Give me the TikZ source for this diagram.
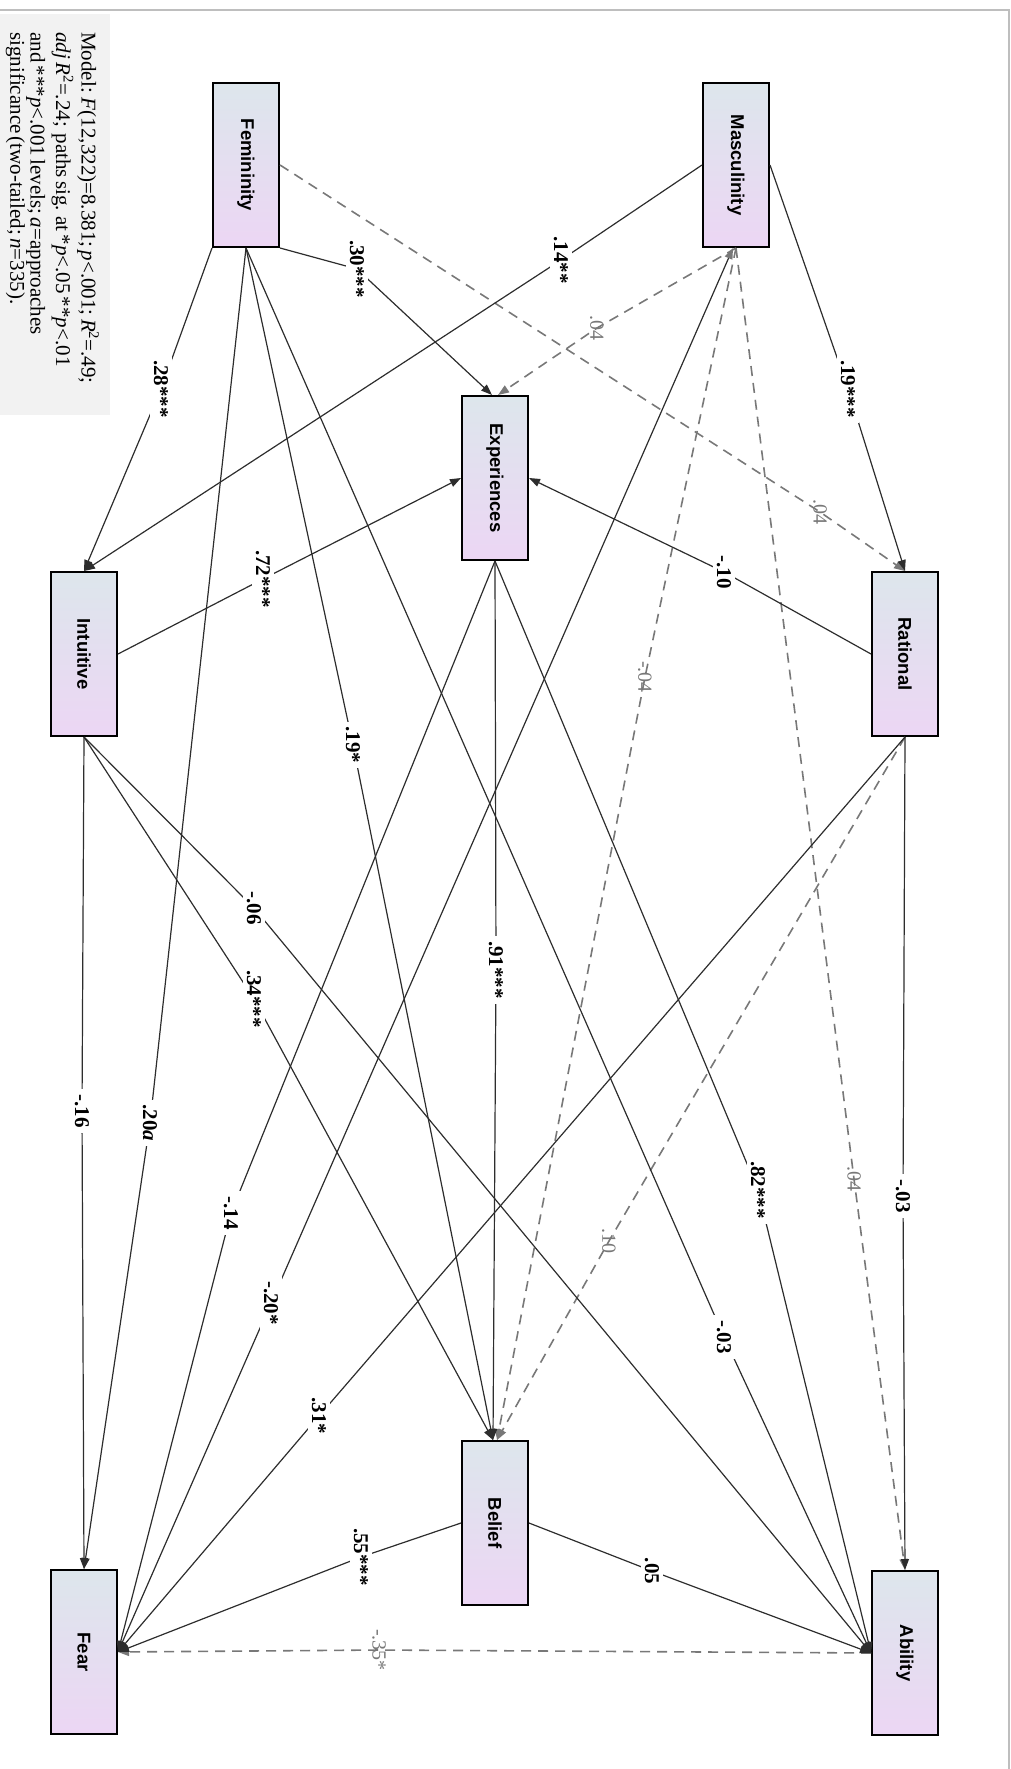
\documentclass[tikz,border=0pt]{standalone}
\usepackage{fontspec}
\usepackage{graphicx}
\setmainfont{Liberation Serif}
\newfontfamily\boxfont{Liberation Sans}
\usetikzlibrary{arrows.meta}
\definecolor{boxtop}{RGB}{221,230,236}
\definecolor{boxbot}{RGB}{236,214,244}
\definecolor{edgec}{RGB}{45,45,45}
\definecolor{dashc}{RGB}{120,120,120}
\definecolor{notebg}{RGB}{242,242,242}
\definecolor{framec}{RGB}{190,190,190}
\newcommand\notesetup{\fontsize{21}{25.5}\selectfont}
\tikzset{
 var/.style={draw=black, line width=2pt, top color=boxtop, bottom color=boxbot,
   minimum width=66pt, minimum height=164pt, inner sep=0pt,
   font=\boxfont\bfseries\fontsize{18.5}{20}\selectfont},
 ed/.style={draw=edgec, line width=1.2pt, -{Triangle[length=11pt,width=8pt]}},
 dsh/.style={draw=dashc, line width=1.6pt, dash pattern=on 10pt off 7pt,
   -{Triangle[length=11pt,width=8pt]}},
 lab/.style={fill=white, rotate=-90, inner xsep=5pt, inner ysep=4pt,
   font=\bfseries\fontsize{21}{21}\selectfont},
 glab/.style={text=dashc, rotate=-90, inner sep=1pt,
   font=\fontsize{20}{20}\selectfont},
}
\begin{document}
\begin{tikzpicture}[x=1pt,y=-1pt]
\useasboundingbox (0,0) rectangle (1011,1769);
\draw[framec, line width=1.5pt] (0,10) -- (1009,10) -- (1009,1769);
% note
\fill[notebg] (0,14) rectangle (110,415);
\node[rotate=-90, anchor=north west, align=left, text width=380pt, inner sep=0pt] (note) at (99,32)
  {\notesetup Model: \textit{F}(12,322)=8.381; \textit{p}<.001; \textit{R}\textsuperscript{2}=.49;\\
   \textit{adj R}\textsuperscript{2}=.24;~ paths sig. at *\textit{p}<.05 **\textit{p}<.01\\
   and ***\textit{p}<.001 levels; \textit{a}=approaches\\
   significance (two-tailed; \textit{n}=335).};
% variables
\node[var] (fem)  at (246,165)  {\rotatebox{-90}{Femininity}};
\node[var] (masc) at (736,165)  {\rotatebox{-90}{Masculinity}};
\node[var] (exp)  at (495,478)  {\rotatebox{-90}{Experiences}};
\node[var] (int)  at (84,654)   {\rotatebox{-90}{Intuitive}};
\node[var] (rat)  at (905,654)  {\rotatebox{-90}{Rational}};
\node[var] (bel)  at (495,1523) {\rotatebox{-90}{Belief}};
\node[var] (fear) at (84,1652)  {\rotatebox{-90}{Fear}};
\node[var] (abil) at (905,1653) {\rotatebox{-90}{Ability}};
% label positions
\coordinate (l1) at (161,389);
\coordinate (l2) at (357,269);
\coordinate (l3) at (820,512);
\coordinate (l4) at (353,745);
\coordinate (l5) at (150,1123);
\coordinate (l6) at (724,1337);
\coordinate (l7) at (561,260);
\coordinate (l8) at (597,328);
\coordinate (l9) at (848,389);
\coordinate (l10) at (645,677);
\coordinate (l11) at (271,1303);
\coordinate (l12) at (854,1179);
\coordinate (l13) at (263,579);
\coordinate (l14) at (724,572);
\coordinate (l15) at (496,970);
\coordinate (l16) at (231,1213);
\coordinate (l17) at (758,1190);
\coordinate (l18) at (82,1111);
\coordinate (l19) at (254,999);
\coordinate (l20) at (254,908);
\coordinate (l21) at (319,1416);
\coordinate (l22) at (609,1241);
\coordinate (l23) at (903,1196);
\coordinate (l24) at (361,1557);
\coordinate (l25) at (652,1571);
\coordinate (l26) at (379,1650);
% dashed edges
\draw[dsh] (fem.east) -- (l3) -- (rat.north);
\draw[dsh] (masc.south) -- (l8) -- ([xshift=3pt]exp.north);
\draw[dsh] (masc.south) -- (l10) -- ([xshift=2pt]bel.north);
\draw[dsh] (masc.south) -- (l12) -- (abil.north);
\draw[dsh] (rat.south) -- (l22) -- ([xshift=2pt]bel.north);
\draw[dsh] (abil.west) -- (l26) -- (fear.east);
% solid edges
\draw[ed] (fem.south west) -- (l1) -- (int.north);
\draw[ed] (fem.south east) -- (l2) -- ([xshift=-3pt]exp.north);
\draw[ed] (fem.south) -- (l4) -- ([xshift=-2pt]bel.north);
\draw[ed] (fem.south) -- (l5) -- (fear.north);
\draw[ed] (fem.south) -- (l6) -- (abil.west);
\draw[ed] (masc.west) -- (l7) -- (int.north);
\draw[ed] (masc.east) -- (l9) -- (rat.north);
\draw[ed, {Triangle[length=11pt,width=8pt,color=dashc]}-{Triangle[length=11pt,width=8pt]}]
  ([xshift=-3pt]masc.south) -- (l11) -- (fear.east);
\draw[ed] (int.east) -- (l13) -- (exp.west);
\draw[ed] (rat.west) -- (l14) -- (exp.east);
\draw[ed] (exp.south) -- (l15) -- ([xshift=-2pt]bel.north);
\draw[ed] (exp.south) -- (l16) -- (fear.east);
\draw[ed] (exp.south) -- (l17) -- (abil.west);
\draw[ed] (int.south) -- (l18) -- (fear.north);
\draw[ed] (int.south) -- (l19) -- ([xshift=-2pt]bel.north);
\draw[ed] (int.south) -- (l20) -- (abil.west);
\draw[ed] (rat.south) -- (l21) -- (fear.east);
\draw[ed] (rat.south) -- (l23) -- (abil.north);
\draw[ed] (bel.west) -- (l24) -- (fear.east);
\draw[ed] (bel.east) -- (l25) -- (abil.west);
% labels
\node[lab] (t1) at (l1) {.28***};
\node[lab] (t2) at (l2) {.30***};
\node[glab] (t3) at (l3) {.04};
\node[lab] (t4) at (l4) {.19*};
\node[lab] (t5) at (l5) {.20\textit{a}};
\node[lab] (t6) at (l6) {-.03};
\node[lab] (t7) at (l7) {.14**};
\node[glab] (t8) at (l8) {.04};
\node[lab] (t9) at (l9) {.19***};
\node[glab] (t10) at (l10) {-.04};
\node[lab] (t11) at (l11) {-.20*};
\node[glab] (t12) at (l12) {.04};
\node[lab] (t13) at (l13) {.72***};
\node[lab] (t14) at (l14) {-.10};
\node[lab] (t15) at (l15) {.91***};
\node[lab] (t16) at (l16) {-.14};
\node[lab] (t17) at (l17) {.82***};
\node[lab] (t18) at (l18) {-.16};
\node[lab] (t19) at (l19) {.34***};
\node[lab] (t20) at (l20) {-.06};
\node[lab] (t21) at (l21) {.31*};
\node[glab] (t22) at (l22) {.10};
\node[lab] (t23) at (l23) {-.03};
\node[lab] (t24) at (l24) {.55***};
\node[lab] (t25) at (l25) {.05};
\node[glab] (t26) at (l26) {-.35*};
\end{tikzpicture}
\end{document}
